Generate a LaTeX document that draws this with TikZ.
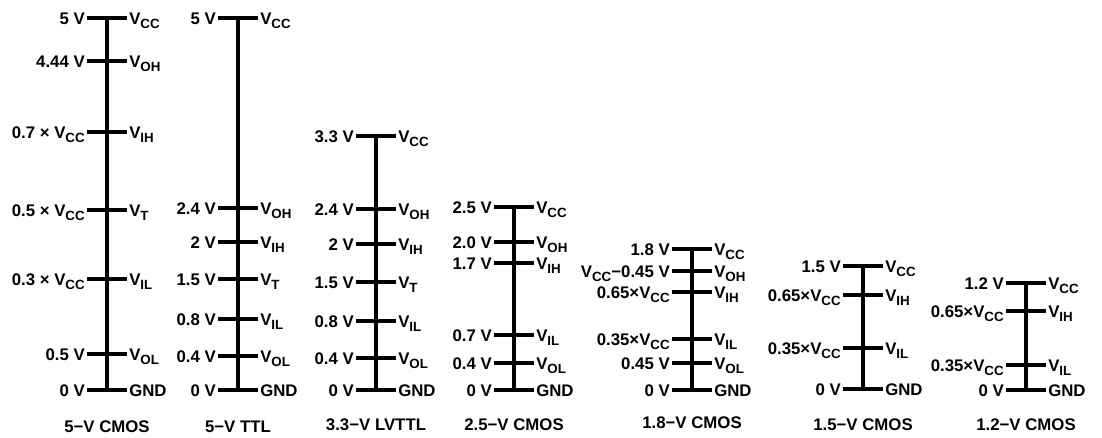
\documentclass[tikz,border=0pt]{standalone}
\usepackage{fontspec}
\setmainfont{Liberation Sans}

\newcommand{\sig}[1]{V\raisebox{-3pt}{\fontsize{10pt}{10pt}\selectfont #1}}
% one level of a scale: \level{col}{x}{y}{tag}{left text}{right text}
\newcommand{\level}[6]{%
  \coordinate (#1-#4) at (#2,#3);
  \coordinate (#1-#4-l) at (#2-20,#3);
  \coordinate (#1-#4-r) at (#2+20,#3);
  \draw[tick] (#1-#4-l) -- (#1-#4-r);
  \node[lab,anchor=base east] (#1-#4-lt) at (#1-#4-l) {#5};
  \node[lab,anchor=base west] (#1-#4-rt) at (#1-#4-r) {#6};}

\begin{document}
\begin{tikzpicture}[x=0.75pt,y=-0.75pt,
  lab/.style={font=\bfseries\fontsize{12.6pt}{14pt}\selectfont, inner sep=1.5pt, yshift=-4.5pt},
  tick/.style={line width=2.3pt},
  rail/.style={line width=2.3pt},
  title/.style={font=\bfseries\fontsize{12.6pt}{14pt}\selectfont, inner sep=0pt}]
\useasboundingbox (0,0) rectangle (1102,437);

% 5-V CMOS
\level{c1}{107}{18}{vcc}{5 V}{\sig{CC}}
\level{c1}{107}{61}{voh}{4.44 V}{\sig{OH}}
\level{c1}{107}{132}{vih}{0.7 × \sig{CC}}{\sig{IH}}
\level{c1}{107}{210}{vt}{0.5 × \sig{CC}}{\sig{T}}
\level{c1}{107}{279}{vil}{0.3 × \sig{CC}}{\sig{IL}}
\level{c1}{107}{354}{vol}{0.5 V}{\sig{OL}}
\level{c1}{107}{390}{gnd}{0 V}{GND}
\draw[rail] (c1-vcc) -- (c1-gnd);
\node[title] (c1-name) at (107,427) {5−V CMOS};

% 5-V TTL
\level{c2}{238}{18}{vcc}{5 V}{\sig{CC}}
\level{c2}{238}{208}{voh}{2.4 V}{\sig{OH}}
\level{c2}{238}{242}{vih}{2 V}{\sig{IH}}
\level{c2}{238}{279}{vt}{1.5 V}{\sig{T}}
\level{c2}{238}{319}{vil}{0.8 V}{\sig{IL}}
\level{c2}{238}{356}{vol}{0.4 V}{\sig{OL}}
\level{c2}{238}{390}{gnd}{0 V}{GND}
\draw[rail] (c2-vcc) -- (c2-gnd);
\node[title] (c2-name) at (238,427) {5−V TTL};

% 3.3-V LVTTL
\level{c3}{376}{136}{vcc}{3.3 V}{\sig{CC}}
\level{c3}{376}{209}{voh}{2.4 V}{\sig{OH}}
\level{c3}{376}{244}{vih}{2 V}{\sig{IH}}
\level{c3}{376}{282}{vt}{1.5 V}{\sig{T}}
\level{c3}{376}{321}{vil}{0.8 V}{\sig{IL}}
\level{c3}{376}{358}{vol}{0.4 V}{\sig{OL}}
\level{c3}{376}{390}{gnd}{0 V}{GND}
\draw[rail] (c3-vcc) -- (c3-gnd);
\node[title] (c3-name) at (376,425) {3.3−V LVTTL};

% 2.5-V CMOS
\level{c4}{514}{207}{vcc}{2.5 V}{\sig{CC}}
\level{c4}{514}{242}{voh}{2.0 V}{\sig{OH}}
\level{c4}{514}{263}{vih}{1.7 V}{\sig{IH}}
\level{c4}{514}{335}{vil}{0.7 V}{\sig{IL}}
\level{c4}{514}{363}{vol}{0.4 V}{\sig{OL}}
\level{c4}{514}{390}{gnd}{0 V}{GND}
\draw[rail] (c4-vcc) -- (c4-gnd);
\node[title] (c4-name) at (514,425) {2.5−V CMOS};

% 1.8-V CMOS
\level{c5}{692}{249}{vcc}{1.8 V}{\sig{CC}}
\level{c5}{692}{271}{voh}{\sig{CC}−0.45 V}{\sig{OH}}
\level{c5}{692}{292}{vih}{0.65×\sig{CC}}{\sig{IH}}
\level{c5}{692}{339}{vil}{0.35×\sig{CC}}{\sig{IL}}
\level{c5}{692}{363}{vol}{0.45 V}{\sig{OL}}
\level{c5}{692}{390}{gnd}{0 V}{GND}
\draw[rail] (c5-vcc) -- (c5-gnd);
\node[title] (c5-name) at (692,423) {1.8−V CMOS};

% 1.5-V CMOS
\level{c6}{863}{266}{vcc}{1.5 V}{\sig{CC}}
\level{c6}{863}{295}{vih}{0.65×\sig{CC}}{\sig{IH}}
\level{c6}{863}{348}{vil}{0.35×\sig{CC}}{\sig{IL}}
\level{c6}{863}{389}{gnd}{0 V}{GND}
\draw[rail] (c6-vcc) -- (c6-gnd);
\node[title] (c6-name) at (863,425) {1.5−V CMOS};

% 1.2-V CMOS
\level{c7}{1026}{283}{vcc}{1.2 V}{\sig{CC}}
\level{c7}{1026}{311}{vih}{0.65×\sig{CC}}{\sig{IH}}
\level{c7}{1026}{365}{vil}{0.35×\sig{CC}}{\sig{IL}}
\level{c7}{1026}{390}{gnd}{0 V}{GND}
\draw[rail] (c7-vcc) -- (c7-gnd);
\node[title] (c7-name) at (1026,425) {1.2−V CMOS};
\end{tikzpicture}
\end{document}
